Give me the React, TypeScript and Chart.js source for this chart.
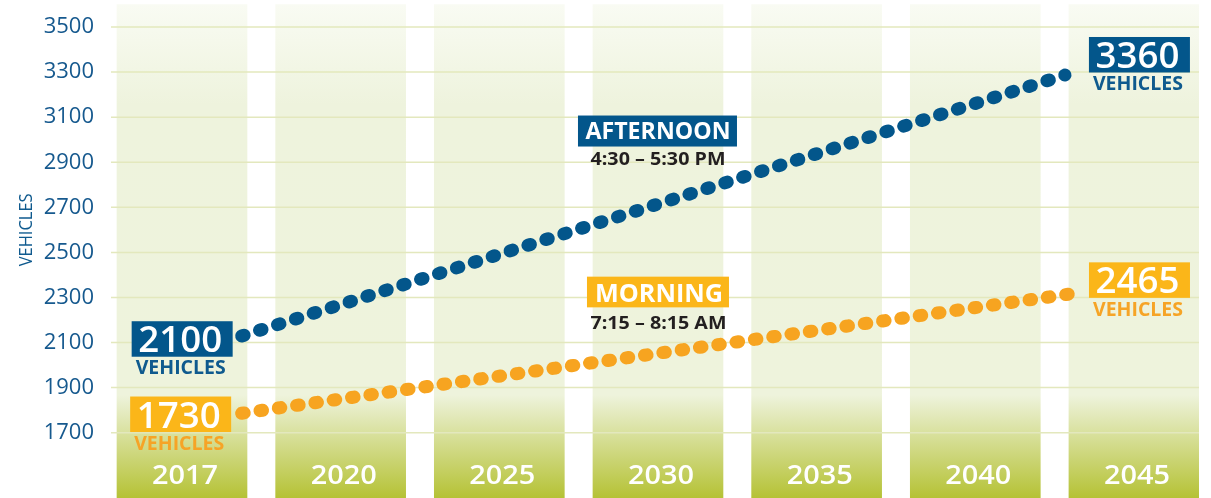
import React, { useEffect, useRef } from 'react';
import { Chart, registerables } from 'chart.js';

Chart.register(...registerables);

// ---------- data ----------
const YEARS = ['2017', '2020', '2025', '2030', '2035', '2040', '2045'];
const Y_TICKS = [1700, 1900, 2100, 2300, 2500, 2700, 2900, 3100, 3300, 3500];
const BAND_RANGE: [number, number] = [1400, 3600];

// dotted trend lines: x = column index (0 = 2017 ... 6 = 2045), y = vehicles
const AFTERNOON_X = [0.376, 5.565];
const AFTERNOON_Y = [2129, 3287];
const MORNING_X = [0.376, 5.622];
const MORNING_Y = [1786, 2318];

// labelled values
const AFTERNOON_LABELS = ['2100', '3360'];
const MORNING_LABELS = ['1730', '2465'];
const SERIES_NAMES = ['AFTERNOON', 'MORNING'];
const SERIES_TIMES = ['4:30 – 5:30 PM', '7:15 – 8:15 AM'];
const UNIT = 'VEHICLES';
const Y_TITLE = 'VEHICLES';

// ---------- style ----------
const FONT = '"Open Sans", "Noto Sans", sans-serif';
const BLUE = '#03568b';
const BLUE_TEXT = '#0f5a8e';
const ORANGE_BOX = '#fbb619';
const ORANGE_DOT = '#f7a420';
const ORANGE_TEXT = '#f6a426';
const DARK = '#231f20';
const GRID = '#e3e8bd';

function fitText(
  ctx: CanvasRenderingContext2D,
  text: string,
  cx: number,
  cy: number,
  capH: number,
  width: number,
  color: string,
  weight: string | number
) {
  const size = capH / 0.714;
  ctx.save();
  ctx.font = `${weight} ${size}px ${FONT}`;
  const w = ctx.measureText(text).width || 1;
  ctx.translate(cx, cy);
  ctx.scale(width / w, 1);
  ctx.fillStyle = color;
  ctx.textAlign = 'center';
  ctx.textBaseline = 'alphabetic';
  ctx.fillText(text, 0, capH / 2);
  ctx.restore();
}

function rect(ctx: CanvasRenderingContext2D, cx: number, cy: number, w: number, h: number, color: string) {
  ctx.save();
  ctx.fillStyle = color;
  ctx.fillRect(cx - w / 2, cy - h / 2, w, h);
  ctx.restore();
}

const gridPlugin = {
  id: 'bandGrid',
  afterDatasetDraw(chart: any, args: any) {
    if (args.index !== 0) return;
    const { ctx, chartArea } = chart;
    const y = chart.scales.y;
    ctx.save();
    ctx.strokeStyle = GRID;
    ctx.lineWidth = 1.5;
    Y_TICKS.forEach((v) => {
      const py = y.getPixelForValue(v);
      ctx.beginPath();
      ctx.moveTo(chartArea.left, py);
      ctx.lineTo(chartArea.right, py);
      ctx.stroke();
    });
    ctx.restore();
  },
};

const labelPlugin = {
  id: 'labels',
  afterDatasetsDraw(chart: any) {
    const { ctx, chartArea } = chart;
    const xs = (v: number) => chart.scales.x.getPixelForValue(v);
    const ys = (v: number) => chart.scales.y.getPixelForValue(v);

    // year labels inside the columns
    YEARS.forEach((yr, i) => {
      fitText(ctx, yr, xs(i) + 3, chartArea.bottom - 24, 19, 66, '#ffffff', 600);
    });

    // y title
    ctx.save();
    ctx.translate(25.3, ys((Y_TICKS[0] + Y_TICKS[Y_TICKS.length - 1]) / 2));
    ctx.rotate(-Math.PI / 2);
    fitText(ctx, Y_TITLE, 0, 0, 12.5, 73, BLUE_TEXT, 400);
    ctx.restore();

    const bs = { x: xs(AFTERNOON_X[0]), y: ys(AFTERNOON_Y[0]) };
    const be = { x: xs(AFTERNOON_X[1]), y: ys(AFTERNOON_Y[1]) };
    const os = { x: xs(MORNING_X[0]), y: ys(MORNING_Y[0]) };
    const oe = { x: xs(MORNING_X[1]), y: ys(MORNING_Y[1]) };

    const valueLabel = (cx: number, cy: number, text: string, boxColor: string, unitColor: string) => {
      rect(ctx, cx, cy, 101, 35.5, boxColor);
      fitText(ctx, text, cx - 2, cy + 0.5, 25.5, 84, '#ffffff', 600);
      fitText(ctx, UNIT, cx - 1.5, cy + 17.75 + 10.8, 13.8, 90, unitColor, 700);
    };

    valueLabel(bs.x - 59.5, bs.y + 3, AFTERNOON_LABELS[0], BLUE, BLUE_TEXT);
    valueLabel(os.x - 61, os.y + 1, MORNING_LABELS[0], ORANGE_BOX, ORANGE_TEXT);
    valueLabel(be.x + 74.5, be.y - 20.3, AFTERNOON_LABELS[1], BLUE, BLUE_TEXT);
    valueLabel(oe.x + 65.5, oe.y - 13.3, MORNING_LABELS[1], ORANGE_BOX, ORANGE_TEXT);

    // series name boxes, centred on the 2030 column
    const cx = xs(3);
    const lerp = (a: any, b: any, x: number) => a.y + ((x - a.x) / (b.x - a.x)) * (b.y - a.y);
    const blueAt = lerp(bs, be, cx);
    const orangeAt = lerp(os, oe, cx);

    const aCy = blueAt - 73;
    rect(ctx, cx - 0.5, aCy, 159, 31, BLUE);
    fitText(ctx, SERIES_NAMES[0], cx, aCy, 16, 145, '#ffffff', 700);
    fitText(ctx, SERIES_TIMES[0], cx, aCy + 27.7, 12.7, 135, DARK, 700);

    const mCy = orangeAt - 61.3;
    rect(ctx, cx, mCy, 142, 30.7, ORANGE_BOX);
    fitText(ctx, SERIES_NAMES[1], cx + 1, mCy + 1, 18, 128, '#ffffff', 700);
    fitText(ctx, SERIES_TIMES[1], cx + 0.5, mCy + 30.5, 13.3, 136, DARK, 700);
  },
};

export default function App() {
  const ref = useRef<HTMLCanvasElement | null>(null);

  useEffect(() => {
    if (!ref.current) return;

    const bandColor = (c: any) => {
      const chart = c.chart;
      const area = chart.chartArea;
      if (!area) return '#eef3dd';
      const y = chart.scales.y;
      const top = y.getPixelForValue(BAND_RANGE[1]);
      const h = area.bottom - top;
      const g = chart.ctx.createLinearGradient(0, top, 0, area.bottom);
      const stop = (py: number) => Math.min(1, Math.max(0, (py - top) / h));
      g.addColorStop(0, '#f9fbf3');
      g.addColorStop(stop(top + 100), '#eef3dd');
      g.addColorStop(stop(395), '#eef3dc');
      g.addColorStop(1, '#b5c235');
      return g;
    };

    const chart = new Chart(ref.current, {
      type: 'bar',
      data: {
        datasets: [
          {
            type: 'bar',
            data: YEARS.map((_, i) => ({ x: i, y: BAND_RANGE })) as any,
            backgroundColor: bandColor,
            borderWidth: 0,
            barThickness: 130,
            order: 3,
          } as any,
          {
            type: 'line',
            data: AFTERNOON_X.map((x, i) => ({ x, y: AFTERNOON_Y[i] })),
            borderColor: BLUE,
            borderWidth: 13,
            borderDash: [2.6, 16.17],
            borderCapStyle: 'round',
            pointRadius: 0,
            fill: false,
            tension: 0,
            order: 1,
          } as any,
          {
            type: 'line',
            data: MORNING_X.map((x, i) => ({ x, y: MORNING_Y[i] })),
            borderColor: ORANGE_DOT,
            borderWidth: 13,
            borderDash: [2.6, 15.9],
            borderCapStyle: 'round',
            pointRadius: 0,
            fill: false,
            tension: 0,
            order: 1,
          } as any,
        ],
      },
      options: {
        responsive: false,
        animation: false,
        events: [],
        layout: { padding: { left: 0, right: 12, top: 0, bottom: 0 }, autoPadding: false },
        plugins: { legend: { display: false }, tooltip: { enabled: false } },
        scales: {
          x: {
            type: 'linear',
            min: -0.4475,
            max: 6.41,
            offset: false,
            display: false,
          },
          y: {
            type: 'linear',
            min: 1410,
            max: 3620,
            afterBuildTicks: (axis: any) => {
              axis.ticks = Y_TICKS.map((v) => ({ value: v }));
            },
            afterFit: (axis: any) => {
              axis.width = 111;
              axis.paddingTop = 0;
              axis.paddingBottom = 0;
            },
            grid: { display: false, drawTicks: false },
            border: { display: false },
            ticks: {
              color: '#16598e',
              font: { family: FONT, size: 22 },
              padding: 17,
              autoSkip: false,
              callback: (v: any) => String(v),
            },
          },
        },
      } as any,
      plugins: [gridPlugin, labelPlugin],
    });

    return () => chart.destroy();
  }, []);

  return (
    <div style={{ position: 'absolute', left: 0, top: 0, width: 1211, height: 498, background: '#ffffff' }}>
      <canvas ref={ref} width={1211} height={498} style={{ display: 'block' }} />
    </div>
  );
}
